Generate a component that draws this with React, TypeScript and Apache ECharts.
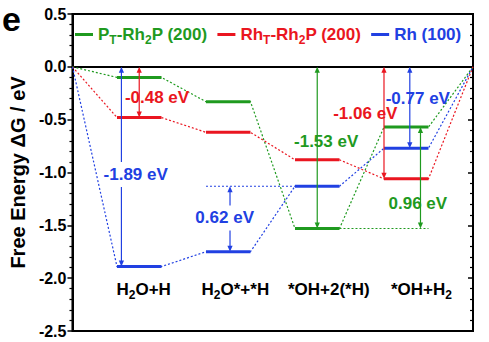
import React, { useEffect, useRef } from "react";
import * as echarts from "echarts";

const FONT = '"Liberation Sans", Arial, Helvetica, sans-serif';

const GREEN = "#1f9a1f";
const RED = "#ea1620";
const BLUE = "#2140e2";

// categories (reaction states)
const categories = ["H2O+H", "H2O*+*H", "*OH+2(*H)", "*OH+H2"];
const categoryRich = ["H{s|2}O+H", "H{s|2}O*+*H", "*OH+2(*H)", "*OH+H{s|2}"];
const categoryPos = [0.8, 1.83, 2.88, 3.92];

// free energies (eV) of each state
const ptRh2p = [-0.1, -0.33, -1.53, -0.57];
const rhtRh2p = [-0.48, -0.62, -0.88, -1.06];
const rh100 = [-1.89, -1.75, -1.13, -0.77];

const seriesNames = ["P_T-Rh2P (200)", "Rh_T-Rh2P (200)", "Rh (100)"];
const legendRich = [
  "{g|P}{gs|T}{g|-Rh}{gs|2}{g|P (200)}",
  "{r|Rh}{rs|T}{r|-Rh}{rs|2}{r|P (200)}",
  "{b|Rh (100)}",
];

// y-axis ticks
const yMin = -2.5;
const yMax = 0.5;
const yStep = 0.5;

// level bar extents on the x scale
const levelStart = [0.5, 1.5, 2.5, 3.5];
const levelWidth = 0.5;
const xMax = 4.5;

// annotation arrows
const arrowX = [0.75, 0.55, 1.77, 2.75, 3.5, 3.79, 3.91];
const arrowFrom = [0, 0, rh100[1], 0, 0, 0, ptRh2p[2]];
const arrowTo = [rhtRh2p[0], rh100[0], rh100[2], ptRh2p[2], rhtRh2p[3], rh100[3], ptRh2p[3]];
const arrowColor = [RED, BLUE, BLUE, GREEN, RED, BLUE, GREEN];
const arrowLabel = ["-0.48 eV", "-1.89 eV", "0.62 eV", "-1.53 eV", "-1.06 eV", "-0.77 eV", "0.96 eV"];
const labelX = [0.95, 0.71, 1.71, 2.85, 3.29, 3.88, 3.88];
const labelY = [-0.29, -1.02, -1.43, -0.71, -0.44, -0.3, -1.29];
const labelBg = [false, true, true, false, false, false, false];

function pathData(vals: number[]) {
  const d: number[][] = [[0, 0]];
  vals.forEach((v, i) => {
    d.push([levelStart[i], v]);
    d.push([levelStart[i] + levelWidth, v]);
  });
  d.push([xMax, 0]);
  return d;
}

function connector(vals: number[], color: string, name: string) {
  return {
    type: "line",
    name,
    data: pathData(vals),
    symbol: "none",
    z: 2,
    itemStyle: { color },
    lineStyle: { color, width: 1.2, type: [2, 2] },
  };
}

function levels(vals: number[], color: string, name: string) {
  return {
    type: "custom",
    name,
    z: 3,
    itemStyle: { color },
    data: vals.map((v, i) => [levelStart[i], v]),
    renderItem: (params: any, api: any) => {
      const x = api.value(0);
      const v = api.value(1);
      const p1 = api.coord([x, v]);
      const p2 = api.coord([x + levelWidth, v]);
      return {
        type: "line",
        shape: { x1: p1[0], y1: p1[1], x2: p2[0], y2: p2[1] },
        style: { stroke: color, lineWidth: 3 },
      };
    },
  };
}

function guide(y: number, x0: number, x1: number, color: string, name: string) {
  return {
    type: "line",
    name,
    data: [
      [x0, y],
      [x1, y],
    ],
    symbol: "none",
    z: 2,
    itemStyle: { color },
    lineStyle: { color, width: 1.2, type: [2, 2] },
  };
}

export default function App() {
  const ref = useRef<HTMLDivElement>(null);
  useEffect(() => {
    if (!ref.current) return;
    const chart = echarts.init(ref.current, null, { renderer: "svg" });
    const option: any = {
      animation: false,
      backgroundColor: "#ffffff",
      grid: {
        left: 67,
        right: 16,
        top: 14,
        bottom: 11,
        show: true,
        borderColor: "#000",
        borderWidth: 2,
        backgroundColor: "transparent",
      },
      legend: {
        data: seriesNames,
        left: 70,
        top: 21,
        icon: "rect",
        itemWidth: 18,
        itemHeight: 3,
        itemGap: 10,
        selectedMode: false,
        formatter: (n: string) => legendRich[seriesNames.indexOf(n)],
        textStyle: {
          fontFamily: FONT,
          fontWeight: "bold",
          fontSize: 17,
          rich: {
            g: { color: GREEN, fontFamily: FONT, fontWeight: "bold", fontSize: 17, lineHeight: 22 },
            gs: { color: GREEN, fontFamily: FONT, fontWeight: "bold", fontSize: 12, lineHeight: 12, verticalAlign: "bottom" },
            r: { color: RED, fontFamily: FONT, fontWeight: "bold", fontSize: 17, lineHeight: 22 },
            rs: { color: RED, fontFamily: FONT, fontWeight: "bold", fontSize: 12, lineHeight: 12, verticalAlign: "bottom" },
            b: { color: BLUE, fontFamily: FONT, fontWeight: "bold", fontSize: 17, lineHeight: 22 },
          },
        },
      },
      xAxis: {
        type: "value",
        min: 0,
        max: xMax,
        axisLine: { show: true, lineStyle: { color: "#000", width: 2 } },
        axisTick: { show: false },
        splitLine: { show: false },
        axisLabel: {
          show: true,
          inside: true,
          margin: 30,
          customValues: categoryPos,
          formatter: (v: number) => {
            const i = categoryPos.findIndex((p) => Math.abs(p - v) < 1e-6);
            return i >= 0 ? categoryRich[i] : "";
          },
          color: "#000",
          fontFamily: FONT,
          fontWeight: "bold",
          fontSize: 17,
          lineHeight: 24,
          rich: {
            s: { fontFamily: FONT, fontWeight: "bold", fontSize: 12, lineHeight: 12, verticalAlign: "bottom", color: "#000" },
          },
        },
      },
      yAxis: [
        {
          type: "value",
          min: yMin,
          max: yMax,
          interval: yStep,
          position: "left",
          name: "Free Energy \u0394G / eV",
          nameLocation: "middle",
          nameGap: 43,
          nameTextStyle: { fontFamily: FONT, fontWeight: "bold", fontSize: 20, color: "#000" },
          axisLine: { show: true, lineStyle: { color: "#000", width: 2 } },
          axisTick: { show: true, inside: false, length: 5, lineStyle: { color: "#000", width: 1.5 } },
          minorTick: { show: true, splitNumber: 5, length: 3, lineStyle: { color: "#000", width: 1.2 } },
          splitLine: { show: false },
          axisLabel: {
            margin: 6,
            color: "#000",
            fontFamily: FONT,
            fontWeight: "bold",
            fontSize: 16,
            formatter: (v: number) => v.toFixed(1),
          },
        },
        {
          type: "value",
          min: yMin,
          max: yMax,
          interval: yStep,
          position: "right",
          axisLine: { show: true, lineStyle: { color: "#000", width: 2 } },
          axisTick: { show: true, inside: true, length: 5, lineStyle: { color: "#000", width: 1.5 } },
          minorTick: { show: true, splitNumber: 5, length: 3, lineStyle: { color: "#000", width: 1.2 } },
          splitLine: { show: false },
          axisLabel: { show: false },
        },
      ],
      graphic: [
        {
          type: "text",
          left: 2,
          top: 2,
          style: { text: "e", font: `bold 34px ${FONT}`, fill: "#000" },
        },
      ],
      series: [
        {
          type: "line",
          name: "zero",
          data: [
            [0, 0],
            [xMax, 0],
          ],
          symbol: "none",
          z: 1,
          itemStyle: { color: "#000" },
          lineStyle: { color: "#000", width: 1.2, type: [1.5, 1.5] },
        },
        connector(ptRh2p, GREEN, "c1"),
        connector(rhtRh2p, RED, "c2"),
        connector(rh100, BLUE, "c3"),
        guide(rh100[2], levelStart[1], levelStart[2], BLUE, "g1"),
        guide(ptRh2p[2], levelStart[2] + levelWidth, levelStart[3] + levelWidth, GREEN, "g2"),
        levels(ptRh2p, GREEN, seriesNames[0]),
        levels(rhtRh2p, RED, seriesNames[1]),
        levels(rh100, BLUE, seriesNames[2]),
        {
          type: "custom",
          name: "arrows",
          z: 5,
          data: arrowX.map((x, i) => [x, arrowFrom[i], arrowTo[i]]),
          renderItem: (params: any, api: any) => {
            const i = params.dataIndex;
            const x = api.value(0);
            const a = api.coord([x, api.value(1)]);
            const b = api.coord([x, api.value(2)]);
            const top = Math.min(a[1], b[1]);
            const bot = Math.max(a[1], b[1]);
            const px = a[0];
            const c = arrowColor[i];
            const hl = 6;
            const hw = 2.6;
            const lp = api.coord([labelX[i], labelY[i]]);
            return {
              type: "group",
              children: [
                {
                  type: "line",
                  shape: { x1: px, y1: top + 4, x2: px, y2: bot - 4 },
                  style: { stroke: c, lineWidth: 1.2 },
                },
                {
                  type: "polygon",
                  shape: { points: [[px, top], [px - hw, top + hl], [px + hw, top + hl]] },
                  style: { fill: c },
                },
                {
                  type: "polygon",
                  shape: { points: [[px, bot], [px - hw, bot - hl], [px + hw, bot - hl]] },
                  style: { fill: c },
                },
                {
                  type: "text",
                  x: lp[0],
                  y: lp[1],
                  style: {
                    text: arrowLabel[i],
                    fill: c,
                    font: `bold 17px ${FONT}`,
                    align: "center",
                    verticalAlign: "middle",
                    backgroundColor: labelBg[i] ? "#ffffff" : undefined,
                    padding: labelBg[i] ? [4, 1] : 0,
                  },
                },
              ],
            };
          },
        },
      ],
    };
    chart.setOption(option);
    return () => chart.dispose();
  }, []);
  return (
    <div
      ref={ref}
      style={{ position: "fixed", left: 0, top: 0, width: 489, height: 342, background: "#fff" }}
    />
  );
}
